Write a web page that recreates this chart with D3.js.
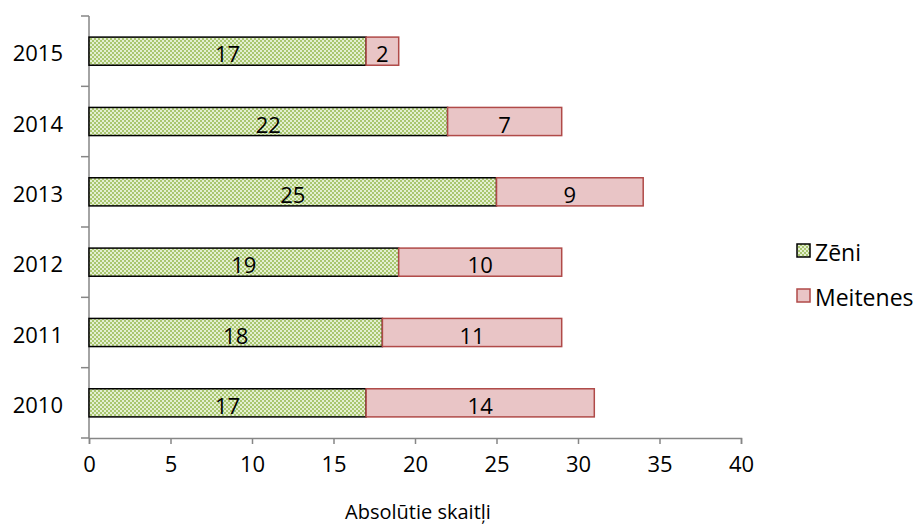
<!DOCTYPE html>
<html>
<head>
<meta charset="utf-8">
<script src="https://cdn.jsdelivr.net/npm/d3@7"></script>
<style>
  body { margin: 0; background: #fff; }
  svg { font-family: "Open Sans", Lato, sans-serif; }
</style>
</head>
<body>
<svg id="chart" width="920" height="525"></svg>
<script>
// Data
const years = ["2010", "2011", "2012", "2013", "2014", "2015"];
const zeni = [17, 18, 19, 25, 22, 17];
const meitenes = [14, 11, 10, 9, 7, 2];
const seriesNames = ["Zēni", "Meitenes"];
const xTicks = [0, 5, 10, 15, 20, 25, 30, 35, 40];
const xTitle = "Absolūtie skaitļi";

(function () {
const svg = d3.select("#chart");
const plotLeft = 89, plotRight = 741, plotTop = 16, plotBottom = 438;
const fontSize = 22;

// Checkered green fill
const defs = svg.append("defs");
const pat = defs.append("pattern").attr("id", "checker")
  .attr("width", 4).attr("height", 4).attr("patternUnits", "userSpaceOnUse");
pat.append("rect").attr("width", 4).attr("height", 4).attr("fill", "#e4efd2");
pat.append("rect").attr("width", 2).attr("height", 2).attr("fill", "#a9c66f");
pat.append("rect").attr("x", 2).attr("y", 2).attr("width", 2).attr("height", 2).attr("fill", "#a9c66f");

const x = d3.scaleLinear().domain([0, 40]).range([plotLeft, plotRight]);
const order = years.slice().reverse();
const y = d3.scaleBand().domain(order).range([plotTop, plotBottom]).paddingInner(0.6).paddingOuter(0.3);
const yBand = d3.scaleBand().domain(order).range([plotTop, plotBottom]);

const axisColor = "#868686";

// X axis
const xAxis = svg.append("g").attr("transform", `translate(0,${plotBottom})`)
  .call(d3.axisBottom(x).tickValues(xTicks).tickSize(6).tickPadding(12));
xAxis.select(".domain").attr("stroke", axisColor).attr("stroke-width", 1.5);
xAxis.selectAll(".tick line").attr("stroke", axisColor).attr("stroke-width", 1.5);
xAxis.selectAll(".tick text").attr("font-size", fontSize).attr("fill", "#000")
  .attr("font-family", "'Open Sans', Lato, sans-serif");

// Y axis: ticks at band boundaries
svg.append("line").attr("x1", plotLeft).attr("x2", plotLeft).attr("y1", plotTop).attr("y2", plotBottom)
  .attr("stroke", axisColor).attr("stroke-width", 1.5);
const bounds = order.map(yr => yBand(yr)).concat([plotBottom]);
svg.selectAll(".ytick").data(bounds).join("line").attr("class", "ytick")
  .attr("x1", plotLeft - 8).attr("x2", plotLeft).attr("y1", d => d).attr("y2", d => d)
  .attr("stroke", axisColor).attr("stroke-width", 1.5);
svg.selectAll(".ylab").data(years).join("text").attr("class", "ylab")
  .attr("x", 63).attr("y", d => yBand(d) + yBand.bandwidth() / 2 + 1)
  .attr("text-anchor", "end").attr("dominant-baseline", "central")
  .attr("font-size", fontSize).text(d => d);

// Bars
const rows = years.map((yr, i) => ({ yr, z: zeni[i], m: meitenes[i] }));
const g = svg.append("g");
rows.forEach(r => {
  const yy = y(r.yr), h = y.bandwidth();
  g.append("rect").attr("x", x(0)).attr("y", yy).attr("width", x(r.z) - x(0)).attr("height", h)
    .attr("fill", "url(#checker)").attr("stroke", "#000").attr("stroke-width", 1.5);
  g.append("rect").attr("x", x(r.z)).attr("y", yy).attr("width", x(r.z + r.m) - x(r.z)).attr("height", h)
    .attr("fill", "#e9c5c6").attr("stroke", "#b04a48").attr("stroke-width", 1.5);
  g.append("text").attr("x", (x(0) + x(r.z)) / 2).attr("y", yy + h / 2 + 2)
    .attr("text-anchor", "middle").attr("dominant-baseline", "central").attr("font-size", fontSize).text(r.z);
  g.append("text").attr("x", (x(r.z) + x(r.z + r.m)) / 2).attr("y", yy + h / 2 + 2)
    .attr("text-anchor", "middle").attr("dominant-baseline", "central").attr("font-size", fontSize).text(r.m);
});

// Legend
const legend = svg.append("g");
const legY = [251, 296];
legend.append("rect").attr("x", 797).attr("y", legY[0] - 7).attr("width", 13).attr("height", 13)
  .attr("fill", "url(#checker)").attr("stroke", "#000").attr("stroke-width", 1.5);
legend.append("rect").attr("x", 797).attr("y", legY[1] - 7).attr("width", 13).attr("height", 13)
  .attr("fill", "#e9c5c6").attr("stroke", "#b04a48").attr("stroke-width", 1.5);
seriesNames.forEach((n, i) => {
  legend.append("text").attr("x", 815).attr("y", legY[i] + 1).attr("dominant-baseline", "central")
    .attr("font-size", 23).text(n);
});

// X axis title
svg.append("text").attr("x", 418).attr("y", 519).attr("text-anchor", "middle")
  .attr("font-size", 20).text(xTitle);
})();
</script>
</body>
</html>
